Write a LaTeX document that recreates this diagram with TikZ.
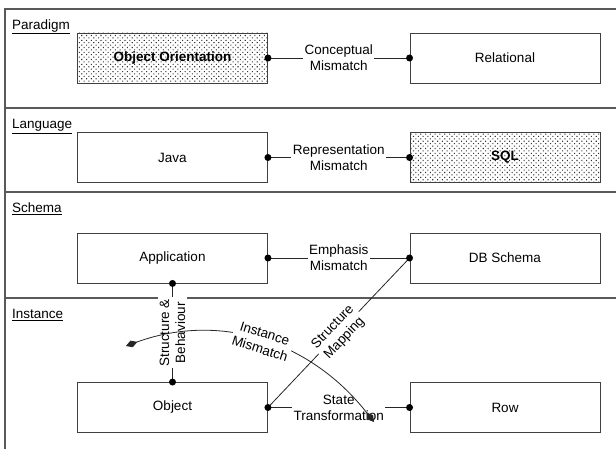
\documentclass[tikz,border=0pt]{standalone}
\usepackage{fontspec}
\setmainfont{Liberation Sans}
\usetikzlibrary{arrows.meta,patterns.meta}
\begin{document}
\begin{tikzpicture}[x=1pt,y=1pt,
  frame/.style={draw=black!65, line width=1.3pt},
  box/.style={draw=black!75, line width=0.9pt, minimum width=190pt, minimum height=50pt, inner sep=0pt, font=\fontsize{13.5}{16}\selectfont},
  dotbox/.style={box, pattern={Dots[angle=45,distance=3.4pt,radius=0.75pt]}, pattern color=black!80, font=\bfseries\fontsize{13.5}{16}\selectfont},
  conn/.style={draw=black!85, line width=0.8pt},
  lbl/.style={fill=white, inner sep=1.5pt, align=center, font=\fontsize{13.5}{16}\selectfont},
  layer/.style={anchor=base west, inner sep=0pt, font=\fontsize{13.5}{16}\selectfont},
  joint/.style={circle, fill=black, inner sep=0pt, minimum size=7pt},
  dtip/.tip={Diamond[length=12pt,width=7pt]}
]
\useasboundingbox (0,0) rectangle (616,-449);
% frame and layer separators
\draw[frame] (616,-9) -- (5,-9) -- (5,-449);
\draw[frame] (5,-108) -- (616,-108);
\draw[frame] (5,-192) -- (616,-192);
\draw[frame] (5,-298) -- (616,-298);
% layer labels
\node[layer] (lp) at (12,-29.5) {\underline{Paradigm}};
\node[layer] (ll) at (12,-128.5) {\underline{Language}};
\node[layer] (ls) at (12,-212.5) {\underline{Schema}};
\node[layer] (li) at (12,-318.5) {\underline{Instance}};
% boxes
\node[dotbox] (oo)  at (172.5,-58)    {Object Orientation};
\node[box]    (rel) at (505,-58)      {Relational};
\node[box]    (java) at (172.5,-157.5) {Java};
\node[dotbox] (sql) at (505,-157.5)   {SQL};
\node[box]    (app) at (172.5,-258)   {Application};
\node[box]    (dbs) at (505,-258)     {DB Schema};
\node[box]    (obj) at (172.5,-407.5) {Object};
\node[box]    (row) at (505,-407.5)   {Row};
% connectors
\draw[conn] (oo.east) -- node[lbl] {Conceptual\\Mismatch} (rel.west);
\draw[conn] (java.east) -- node[lbl] {Representation\\Mismatch} (sql.west);
\draw[conn] (app.east) -- node[lbl] {Emphasis\\Mismatch} (dbs.west);
\draw[conn] (app.south) -- node[lbl, rotate=90] {Structure \&\\Behaviour} (obj.north);
\draw[conn] (obj.east) -- node[lbl] {State\\Transformation} (row.west);
\draw[conn] (obj.east) -- node[lbl, sloped] {Structure\\Mapping} (dbs.west);
\coordinate (imA) at (126,-346);
\coordinate (imB) at (374,-422);
\draw[conn, dtip-dtip] (imA) to[out=20, in=128] node[lbl, sloped, pos=0.5] {Instance\\Mismatch} (imB);
% joints
\foreach \p in {oo.east, rel.west, java.east, sql.west, app.east, dbs.west, app.south, obj.north, obj.east, row.west}
  \node[joint] at (\p) {};
\end{tikzpicture}
\end{document}
